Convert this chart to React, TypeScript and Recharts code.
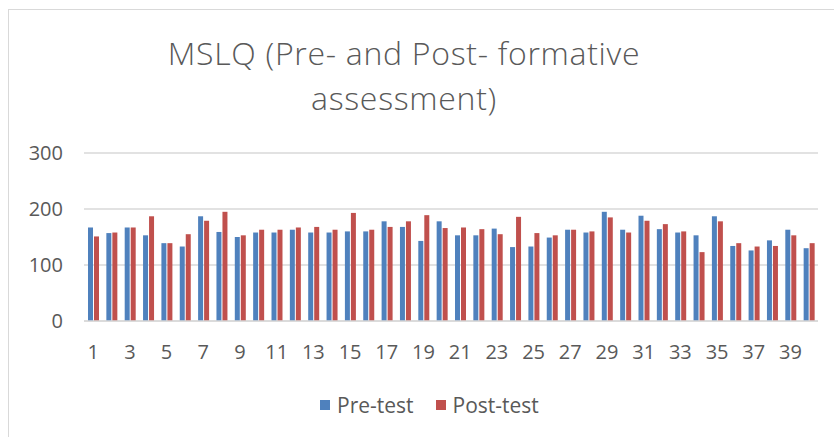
import React from 'react';
import { BarChart, Bar, XAxis, YAxis, CartesianGrid, Legend } from 'recharts';

// 40 students, MSLQ totals
const students = Array.from({ length: 40 }, (_, i) => String(i + 1));
const preTest = [167, 157, 167, 153, 139, 133, 187, 159, 150, 158, 158, 163, 158, 158, 160, 160, 178, 168, 143, 178,
  153, 153, 165, 132, 133, 149, 163, 158, 195, 163, 188, 164, 158, 153, 187, 134, 126, 144, 163, 130];
const postTest = [151, 158, 167, 187, 139, 155, 179, 195, 153, 163, 163, 167, 168, 163, 193, 163, 168, 178, 189, 166,
  167, 164, 155, 186, 157, 153, 163, 160, 185, 158, 179, 173, 160, 123, 178, 139, 133, 134, 153, 139];
const seriesNames = ['Pre-test', 'Post-test'];
const titleLines = ['MSLQ (Pre- and Post- formative', 'assessment)'];
const yTicks = [0, 100, 200, 300];

const data = students.map((s, i) => ({ name: s, pre: preTest[i], post: postTest[i] }));

const FONT = '"Open Sans", sans-serif';
const TEXT = '#595959';
const GRID = '#D9D9D9';

const LegendContent = ({ payload }: any) => {
  const items = [...(payload || [])].sort((a: any, b: any) => seriesNames.indexOf(a.value) - seriesNames.indexOf(b.value));
  return (
    <div style={{ height: 76, position: 'relative', fontFamily: FONT, color: TEXT, fontSize: 21 }}>
      <div style={{ position: 'absolute', left: 320, top: 30, display: 'flex', alignItems: 'center' }}>
        {items.map((p: any, i: number) => (
          <div key={i} style={{ display: 'flex', alignItems: 'center', marginRight: 22 }}>
            <span style={{ display: 'inline-block', width: 10, height: 10, background: p.color, marginRight: 7 }} />
            <span>{p.value}</span>
          </div>
        ))}
      </div>
    </div>
  );
};

export default function App() {
  return (
    <div style={{ position: 'absolute', left: 0, top: 0, width: 834, height: 437, background: '#fff' }}>
      <div style={{ position: 'absolute', left: 8, top: 9, right: 0, bottom: 0, borderTop: `1px solid ${GRID}`, borderLeft: `1px solid ${GRID}` }} />
      {titleLines.map((line, i) => (
        <div
          key={i}
          style={{
            position: 'absolute', left: 104, width: 600, top: 37 + i * 45, textAlign: 'center',
            fontFamily: FONT, fontWeight: 300, fontSize: 32, lineHeight: '32px', letterSpacing: 0.7,
            color: TEXT, whiteSpace: 'nowrap',
          }}
        >
          {line}
        </div>
      ))}
      <BarChart
        width={834}
        height={437}
        data={data}
        margin={{ top: 153, right: 16, left: 0, bottom: 0 }}
        barSize={5}
        barGap={1}
      >
        <CartesianGrid vertical={false} stroke={GRID} strokeWidth={1.5} />
        <XAxis
          dataKey="name"
          interval={1}
          height={40}
          tickSize={0}
          tickMargin={24}
          axisLine={{ stroke: GRID, strokeWidth: 1.5 }}
          tick={{ fill: TEXT, fontSize: 20, fontFamily: FONT }}
        />
        <YAxis
          domain={[0, 300]}
          ticks={yTicks}
          width={84}
          tickSize={0}
          tickMargin={21}
          axisLine={false}
          tick={{ fill: TEXT, fontSize: 20, fontFamily: FONT }}
        />
        <Legend verticalAlign="bottom" wrapperStyle={{ left: 0, width: 834 }} content={<LegendContent />} />
        <Bar dataKey="pre" name={seriesNames[0]} fill="#4F81BD" isAnimationActive={false} />
        <Bar dataKey="post" name={seriesNames[1]} fill="#C0504D" isAnimationActive={false} />
      </BarChart>
    </div>
  );
}
